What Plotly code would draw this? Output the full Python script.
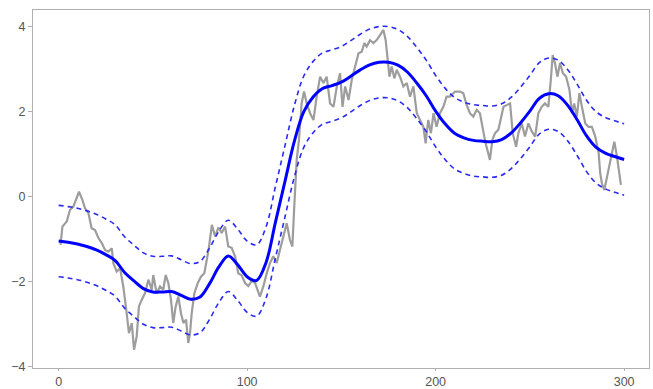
import plotly.graph_objects as go

# Noisy observations (gray)
obs_x = [1, 2, 4.3, 6, 7.8, 9.6, 10.8, 12.6, 14, 15.8, 17.5, 19.3, 21.1, 22.9, 24.6, 26.4, 28.2, 29,
         30.8, 32.6, 34.3, 36.1, 37.3, 38.8, 40, 41.4, 42.6, 44.1, 45.8, 47.6, 49.4, 50.2, 52, 53.8,
         55.5, 56.8, 58.2, 59.6, 60.8, 62.1, 63.5, 64.9, 66.2, 67.6, 68.8, 69.7, 70.6, 72, 73.8, 75.5,
         77.3, 78.6, 79.8, 81.3, 83, 84.8, 86.5, 88.3, 90, 91.8, 93.6, 95.3, 97.1, 98.9, 100.6, 102.4,
         104.2, 106.8, 108.6, 110.4, 112.1, 113.9, 115.7, 117.4, 119.2, 121, 122.7, 124, 125, 126.3,
         127.5, 128.9, 130.2, 131.6, 133.4, 135.2, 136.9, 138.7, 140.5, 142.2, 144, 145.8, 147.6,
         149.3, 150.6, 152, 153.8, 155.5, 157.3, 159.1, 160.8, 162.2, 163.4, 165.2, 167, 168.7, 170.5,
         172.3, 173.5, 174.6, 175.5, 176.7, 178.1, 179.4, 181.1, 182.9, 184.7, 186.4, 188.2, 190,
         191.7, 193.5, 194.7, 196.1, 197.5, 198.9, 200.5, 202.3, 204.1, 205.8, 207.6, 210.3, 212.9,
         214.7, 216.5, 218.2, 220, 221.8, 223.5, 225.3, 226.5, 227.9, 228.8, 230.1, 231.5, 233.3,
         234.7, 236, 237.7, 239.5, 240.9, 242.7, 243.9, 245.7, 247.4, 249.2, 251, 252.8, 254.5,
         256.3, 258, 259.8, 261.1, 262.1, 263.3, 264.6, 266, 267.5, 269.2, 271, 272.3, 273.5, 274.9,
         276.3, 277.6, 279.4, 281.1, 282.9, 284.7, 286.5, 287.3, 288.2, 289.5, 290.9, 292.3, 293.5,
         294.8, 296.2, 297.6, 298.3]
obs_y = [-1.13, -0.7, -0.58, -0.31, -0.23, 0.01, 0.12, -0.07, -0.27, -0.38, -0.74, -0.78, -0.97, -1.09,
         -1.25, -1.29, -1.21, -1.56, -1.76, -1.68, -2.11, -2.74, -3.21, -2.97, -3.6, -3.29, -2.58,
         -2.42, -2.27, -1.95, -2.19, -1.84, -2.27, -2.11, -2.19, -1.84, -2.03, -2.42, -2.97, -2.58,
         -2.35, -2.74, -2.97, -2.89, -3.44, -3.21, -2.74, -2.27, -2.03, -1.88, -1.8, -1.48, -1.17,
         -0.66, -0.93, -0.72, -0.85, -0.7, -1.17, -1.2, -1.4, -1.8, -1.85, -2.03, -2.1, -1.98, -2.03,
         -2.35, -2.11, -1.8, -1.56, -1.4, -1.56, -1.25, -0.93, -0.62, -1.01, -1.17, -0.23, 0.87,
         1.34, 2.2, 2.48, 2.2, 1.97, 1.81, 2.36, 2.83, 2.68, 2.83, 2.2, 2.12, 2.6, 2.91, 2.12, 2.6,
         2.28, 2.75, 3.07, 3.38, 3.42, 3.62, 3.54, 3.69, 3.62, 3.69, 3.81, 3.93, 3.69, 3.15, 2.83,
         3.07, 2.79, 2.99, 2.83, 2.6, 2.68, 2.36, 2.6, 1.97, 1.81, 1.65, 1.26, 1.81, 1.5, 1.97, 1.65,
         1.97, 2.12, 2.36, 2.36, 2.48, 2.48, 2.44, 2.16, 1.97, 1.89, 2.05, 1.97, 1.5, 1.26, 1.03,
         0.87, 1.34, 1.5, 1.58, 1.89, 2.12, 2.16, 2.2, 1.5, 1.18, 1.5, 1.73, 1.42, 1.73, 1.54, 1.42,
         1.97, 2.12, 2.2, 2.12, 2.75, 3.34, 3.15, 2.83, 3.15, 2.91, 2.83, 2.52, 1.97, 2.2, 1.89,
         2.44, 2.12, 1.73, 1.65, 1.65, 1.42, 1.03, 0.56, 0.32, 0.16, 0.48, 0.79, 1.03, 1.3, 0.95,
         0.48, 0.28]

# Smoothed fit and band (blue)
fit_x = [0, 5, 10, 15, 20, 25, 30, 35, 40, 45, 50, 55, 60, 65, 70, 75, 80, 85, 90, 95, 100, 105,
         110, 115, 120, 125, 130, 135, 140, 145, 150, 155, 160, 165, 170, 175, 180, 185, 190, 195,
         200, 205, 210, 215, 220, 225, 230, 235, 240, 245, 250, 255, 260, 265, 270, 275, 280, 285,
         290, 295, 300]
fit_y = [-1.04, -1.07, -1.11, -1.17, -1.25, -1.36, -1.5, -1.78, -1.98, -2.16, -2.24, -2.24, -2.23,
         -2.32, -2.41, -2.36, -2.05, -1.65, -1.39, -1.6, -1.88, -1.97, -1.55, -0.6, 0.35, 1.3, 2.0,
         2.35, 2.55, 2.62, 2.7, 2.84, 2.99, 3.11, 3.17, 3.17, 3.1, 2.94, 2.68, 2.38, 2.02, 1.72, 1.5,
         1.39, 1.33, 1.31, 1.3, 1.35, 1.5, 1.74, 2.02, 2.32, 2.43, 2.38, 2.16, 1.82, 1.44, 1.17,
         1.03, 0.95, 0.88]
upper_y = [-0.2, -0.23, -0.27, -0.33, -0.41, -0.52, -0.66, -0.94, -1.14, -1.32, -1.4, -1.4, -1.39,
           -1.48, -1.57, -1.52, -1.21, -0.81, -0.55, -0.76, -1.04, -1.13, -0.71, 0.24, 1.19, 2.14,
           2.84, 3.19, 3.39, 3.46, 3.54, 3.68, 3.83, 3.95, 4.01, 4.01, 3.94, 3.78, 3.52, 3.22, 2.86,
           2.56, 2.34, 2.23, 2.17, 2.15, 2.14, 2.19, 2.34, 2.58, 2.86, 3.16, 3.27, 3.22, 3.0, 2.66,
           2.28, 2.01, 1.87, 1.79, 1.72]
lower_y = [-1.88, -1.91, -1.95, -2.01, -2.09, -2.2, -2.34, -2.62, -2.82, -3.0, -3.08, -3.08, -3.07,
           -3.16, -3.25, -3.2, -2.89, -2.49, -2.23, -2.44, -2.72, -2.81, -2.39, -1.44, -0.49, 0.46,
           1.16, 1.51, 1.71, 1.78, 1.86, 2.0, 2.15, 2.27, 2.33, 2.33, 2.26, 2.1, 1.84, 1.54, 1.18,
           0.88, 0.66, 0.55, 0.49, 0.47, 0.46, 0.51, 0.66, 0.9, 1.18, 1.48, 1.59, 1.54, 1.32, 0.98,
           0.6, 0.33, 0.19, 0.11, 0.04]

x_ticks = [0, 100, 200, 300]
y_ticks = [-4, -2, 0, 2, 4]

fig = go.Figure()
fig.add_trace(go.Scatter(x=obs_x, y=obs_y, mode="lines",
                         line=dict(color="#9d9d9d", width=2.2), showlegend=False))
fig.add_trace(go.Scatter(x=fit_x, y=upper_y, mode="lines", line_shape="spline",
                         line=dict(color="#2a2af5", width=1.6, dash="5px,4px"), showlegend=False))
fig.add_trace(go.Scatter(x=fit_x, y=lower_y, mode="lines", line_shape="spline",
                         line=dict(color="#2a2af5", width=1.6, dash="5px,4px"), showlegend=False))
fig.add_trace(go.Scatter(x=fit_x, y=fit_y, mode="lines", line_shape="spline",
                         line=dict(color="#0000ff", width=3), showlegend=False))

font = dict(family="Liberation Sans, Arial, sans-serif", size=12.5, color="#555555")
axis_common = dict(showgrid=False, zeroline=False, showline=True, linecolor="#b0b0b0",
                   linewidth=1, mirror=True, ticks="outside", tickcolor="#b0b0b0",
                   automargin=False, tickfont=font)
fig.update_xaxes(range=[-13.6, 313.2], tickvals=x_ticks, ticklen=2, **axis_common)
fig.update_yaxes(range=[-4.03, 4.4], tickvals=y_ticks, ticklen=4, **axis_common)

fig.update_layout(width=653, height=389, margin=dict(l=33, r=4, t=10, b=21),
                  plot_bgcolor="white", paper_bgcolor="white")

fig.write_html("out.html")
